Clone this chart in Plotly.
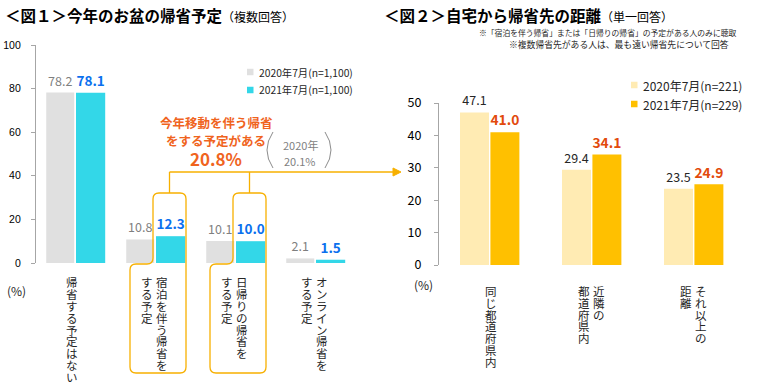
import plotly.graph_objects as go

# ---------------- data ----------------
cats1 = ["帰省する予定はない", "宿泊を伴う帰省をする予定", "日帰りの帰省をする予定", "オンライン帰省をする予定"]
label_cols1 = [["帰省する予定はない"], ["宿泊を伴う帰省を", "する予定"], ["日帰りの帰省を", "する予定"], ["オンライン帰省を", "する予定"]]
vals1_2020 = [78.2, 10.8, 10.1, 2.1]
vals1_2021 = [78.1, 12.3, 10.0, 1.5]
names1 = ["2020年7月(n=1,100)", "2021年7月(n=1,100)"]

cats2 = ["同じ都道府県内", "近隣の都道府県内", "それ以上の距離"]
label_cols2 = [["同じ都道府県内"], ["近隣の", "都道府県内"], ["それ以上の", "距離"]]
vals2_2020 = [47.1, 29.4, 23.5]
vals2_2021 = [41.0, 34.1, 24.9]
names2 = ["2020年7月(n=221)", "2021年7月(n=229)"]

yticks1 = [0, 20, 40, 60, 80, 100]
yticks2 = [0, 10, 20, 30, 40, 50]

title1 = "＜図１＞今年のお盆の帰省予定"
sub1 = "（複数回答）"
title2 = "＜図２＞自宅から帰省先の距離"
sub2 = "（単一回答）"
notes2 = ["※「宿泊を伴う帰省」または「日帰りの帰省」の予定がある人のみに聴取",
          "※複数帰省先がある人は、最も遠い帰省先について回答"]
callout_lines = ["今年移動を伴う帰省", "をする予定がある"]
callout_value = "20.8%"
prev_lines = ["2020年", "20.1%"]

# ---------------- style ----------------
W, H = 760, 392
JP = "Noto Sans CJK JP, sans-serif"
C_GRAY = "#e0e0e0"
C_CYAN = "#33d7e8"
C_LIGHT = "#ffebb3"
C_DARK = "#ffc000"
C_BLUE = "#0a70ee"
C_RED = "#e24a0c"
C_ORANGE = "#f0641e"
C_LINE = "#f7b000"
C_AXIS = "#a6a6a6"
TXT = "#262626"


def px(x):
    return x / W


def py(y):
    return 1 - y / H


# plot area geometry (pixels)
X1L, X1R = 36, 356
Y1B, Y1T = 263, 45
X2L, X2R = 439, 745
Y2B, Y2T = 265, 103

fig = go.Figure()

fig.add_trace(go.Bar(x=cats1, y=vals1_2020, name=names1[0], marker=dict(color=C_GRAY, line=dict(width=0)),
                     width=0.35, offset=-0.372, text=[f"{v:.1f}" for v in vals1_2020], textposition="outside",
                     textfont=dict(family=JP, size=12.5, color="#7f7f7f"), cliponaxis=False,
                     xaxis="x", yaxis="y", showlegend=False))
fig.add_trace(go.Bar(x=cats1, y=vals1_2021, name=names1[0], marker=dict(color=C_CYAN, line=dict(width=0)),
                     width=0.365, offset=0.0, text=[f"<b>{v:.1f}</b>" for v in vals1_2021], textposition="outside",
                     textfont=dict(family=JP, size=13.5, color=C_BLUE), cliponaxis=False,
                     xaxis="x", yaxis="y", showlegend=False))
fig.add_trace(go.Bar(x=cats2, y=vals2_2020, name=names2[0], marker=dict(color=C_LIGHT, line=dict(width=0)),
                     width=0.284, offset=-0.294, text=[f"{v:.1f}" for v in vals2_2020], textposition="outside",
                     textfont=dict(family=JP, size=12.5, color=TXT), cliponaxis=False,
                     xaxis="x2", yaxis="y2", showlegend=False))
fig.add_trace(go.Bar(x=cats2, y=vals2_2021, name=names2[1], marker=dict(color=C_DARK, line=dict(width=0)),
                     width=0.284, offset=0.004, text=[f"<b>{v:.1f}</b>" for v in vals2_2021], textposition="outside",
                     textfont=dict(family=JP, size=14.5, color=C_RED), cliponaxis=False,
                     xaxis="x2", yaxis="y2", showlegend=False))

axis_common = dict(showgrid=False, zeroline=False, fixedrange=True, automargin=False)
fig.update_layout(
    width=W, height=H, margin=dict(l=0, r=0, t=0, b=0, autoexpand=False),
    paper_bgcolor="white", plot_bgcolor="white",
    barmode="group", showlegend=False,
    font=dict(family=JP, color=TXT),
    xaxis=dict(domain=[px(X1L), px(X1R)], anchor="y", showticklabels=False, ticks="", showline=False,
               categoryorder="array", categoryarray=cats1, **axis_common),
    yaxis=dict(domain=[py(Y1B), py(Y1T)], anchor="x", range=[0, 100], tickvals=yticks1,
               ticks="outside", ticklen=4, tickcolor=C_AXIS, showline=True, linecolor=C_AXIS, linewidth=1.3,
               tickfont=dict(family="Liberation Sans, Arial, sans-serif", size=10.5, color="#000"),
               ticklabelstandoff=8, **axis_common),
    xaxis2=dict(domain=[px(X2L), px(X2R)], anchor="y2", showticklabels=False, ticks="", showline=False,
                categoryorder="array", categoryarray=cats2, **axis_common),
    yaxis2=dict(domain=[py(Y2B), py(Y2T)], anchor="x2", range=[0, 50], tickvals=yticks2,
                ticks="outside", ticklen=4, tickcolor=C_AXIS, showline=True, linecolor=C_AXIS, linewidth=1.3,
                tickfont=dict(family=JP, size=12.5, color="#000"),
                ticklabelstandoff=10, **axis_common),
)

ann = []
shapes = []


def label(x, y, text, size, color=TXT, xanchor="center", family=JP):
    ann.append(dict(x=px(x), y=py(y), xref="paper", yref="paper", xanchor=xanchor, yanchor="middle",
                    showarrow=False, text=text, font=dict(family=family, size=size, color=color)))


# titles
label(3, 15, f"<b>{title1}</b><span style='font-size:12px'>{sub1}</span>", 15.5, "#000", "left")
label(382, 15, f"<b>{title2}</b><span style='font-size:12px'>{sub2}</span>", 15.5, "#000", "left")
# notes
for t, xr, yy, fs in zip(notes2, [738, 731], [33, 45], [7.8, 8.8]):
    label(xr, yy, t, fs, TXT, "right")


# legends
def legend(x_sq, y_c, size_sq, colors, names, fsize):
    for k, (c, n) in enumerate(zip(colors, names)):
        yc = y_c[k]
        shapes.append(dict(type="rect", xref="paper", yref="paper", x0=px(x_sq), x1=px(x_sq + size_sq),
                           y0=py(yc + size_sq / 2), y1=py(yc - size_sq / 2), fillcolor=c, line=dict(width=0)))
        label(x_sq + size_sq + 3, yc, n, fsize, TXT, "left")


legend(247, [72, 90], 6.5, [C_GRAY, C_CYAN], names1, 10.3)
legend(631, [85, 104], 6.5, [C_LIGHT, C_DARK], names2, 12)

# (%) labels
label(16, 290, "(%)", 12)
label(423, 284, "(%)", 12)


# vertical category labels (columns read right-to-left)
def vlabels(cats, cols_list, xref, top, step, single_shift, col_shifts, fsize):
    for cat, cols in zip(cats, cols_list):
        shifts = [single_shift] if len(cols) == 1 else col_shifts
        for col, sh in zip(cols, shifts):
            for j, ch in enumerate(col):
                ann.append(dict(x=cat, xref=xref, y=py(top + step * j + step / 2), yref="paper",
                                xshift=sh, xanchor="center", yanchor="middle", showarrow=False, text=ch,
                                font=dict(family=JP, size=fsize, color=TXT)))


vlabels(cats1, label_cols1, "x", 276, 11.9, -4, [6, -9], 11.5)
vlabels(cats2, label_cols2, "x2", 285, 11.8, 1, [7, -8], 11.5)

# callout boxes around the 2021 bars of categories 2 and 3
cat_w1 = (X1R - X1L) / len(cats1)
r = 6
top_b, neck, bot = 193, 264, 373
conn_x = []
for idx in (1, 2):
    cx = X1L + cat_w1 * (idx + 0.5)
    x1, x2, wl = cx - 3, cx + 30, cx - 26
    pts = [("M", x1 + r, top_b), ("L", x2 - r, top_b), ("Q", x2, top_b, x2, top_b + r),
           ("L", x2, bot - r), ("Q", x2, bot, x2 - r, bot), ("L", wl + r, bot), ("Q", wl, bot, wl, bot - r),
           ("L", wl, neck + r), ("Q", wl, neck, wl + r, neck), ("L", x1 - r, neck), ("Q", x1, neck, x1, neck - r),
           ("L", x1, top_b + r), ("Q", x1, top_b, x1 + r, top_b)]
    path = ""
    for p in pts:
        if p[0] == "Q":
            path += f"Q{px(p[1]):.5f},{py(p[2]):.5f} {px(p[3]):.5f},{py(p[4]):.5f} "
        else:
            path += f"{p[0]}{px(p[1]):.5f},{py(p[2]):.5f} "
    path += "Z"
    shapes.append(dict(type="path", xref="paper", yref="paper", path=path, line=dict(color=C_LINE, width=1.3)))
    conn_x.append((x1 + x2) / 2)

ARROW_Y = 172
TIP_X = 401
for cxp in conn_x:
    shapes.append(dict(type="line", xref="paper", yref="paper", x0=px(cxp), x1=px(cxp), y0=py(ARROW_Y),
                       y1=py(top_b), line=dict(color=C_LINE, width=1.3)))
shapes.append(dict(type="line", xref="paper", yref="paper", x0=px(conn_x[0]), x1=px(TIP_X - 5), y0=py(ARROW_Y),
                   y1=py(ARROW_Y), line=dict(color=C_LINE, width=1.3)))
shapes.append(dict(type="path", xref="paper", yref="paper",
                   path=f"M{px(TIP_X - 8):.5f},{py(ARROW_Y - 4):.5f} L{px(TIP_X):.5f},{py(ARROW_Y):.5f} "
                        f"L{px(TIP_X - 8):.5f},{py(ARROW_Y + 4):.5f} Z",
                   fillcolor=C_LINE, line=dict(color=C_LINE, width=1)))

# callout text
label(216, 123, f"<b>{callout_lines[0]}</b>", 12.5, C_ORANGE)
label(216, 141, f"<b>{callout_lines[1]}</b>", 12.5, C_ORANGE)
label(216, 158, f"<b>{callout_value}</b>", 17, C_ORANGE)

# previous-year value in parentheses
label(300, 145, prev_lines[0], 11, "#7f7f7f")
label(300, 161, prev_lines[1], 11, "#7f7f7f")
shapes.append(dict(type="path", xref="paper", yref="paper",
                   path=f"M{px(273):.5f},{py(132):.5f} Q{px(261):.5f},{py(150):.5f} {px(273):.5f},{py(168):.5f}",
                   line=dict(color="#8c8c8c", width=1)))
shapes.append(dict(type="path", xref="paper", yref="paper",
                   path=f"M{px(325):.5f},{py(132):.5f} Q{px(337):.5f},{py(150):.5f} {px(325):.5f},{py(168):.5f}",
                   line=dict(color="#8c8c8c", width=1)))

fig.update_layout(annotations=ann, shapes=shapes)
fig.write_html("out.html", config={"displayModeBar": False},
               post_script="document.body.style.margin='0';document.body.style.overflow='hidden';")
